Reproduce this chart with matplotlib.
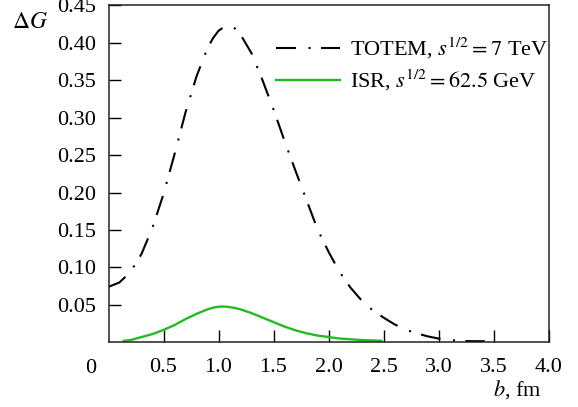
import matplotlib
matplotlib.use("Agg")
import matplotlib.pyplot as plt

# TOTEM, sqrt(s) = 7 TeV
b_totem = [0.0, 0.1, 0.2, 0.3, 0.4, 0.5, 0.6, 0.7, 0.8, 0.9, 0.95, 1.0, 1.05,
           1.1, 1.15, 1.2, 1.3, 1.4, 1.5, 1.6, 1.7, 1.8, 1.9, 2.0, 2.1, 2.2,
           2.3, 2.4, 2.5, 2.6, 2.7, 2.8, 2.9, 3.0, 3.1, 3.2, 3.3, 3.42]
dg_totem = [0.074, 0.080, 0.094, 0.118, 0.153, 0.198, 0.251, 0.307, 0.355,
            0.393, 0.406, 0.416, 0.421, 0.423, 0.419, 0.411, 0.386, 0.350,
            0.311, 0.269, 0.229, 0.190, 0.151, 0.121, 0.094, 0.073, 0.056,
            0.043, 0.033, 0.024, 0.017, 0.012, 0.008, 0.005, 0.003, 0.002,
            0.0015, 0.0015]

# ISR, sqrt(s) = 62.5 GeV
b_isr = [0.14, 0.2, 0.3, 0.4, 0.5, 0.6, 0.7, 0.8, 0.9, 0.95, 1.0, 1.05, 1.1,
         1.15, 1.2, 1.3, 1.4, 1.5, 1.6, 1.7, 1.8, 1.9, 2.0, 2.1, 2.2, 2.3,
         2.4, 2.48]
dg_isr = [0.002, 0.003, 0.007, 0.011, 0.0165, 0.023, 0.031, 0.038, 0.044,
          0.0462, 0.0475, 0.0478, 0.047, 0.0458, 0.044, 0.039, 0.033, 0.027,
          0.021, 0.016, 0.012, 0.009, 0.007, 0.005, 0.004, 0.003, 0.0025,
          0.002]

xticks = [0.5, 1.0, 1.5, 2.0, 2.5, 3.0, 3.5, 4.0]
yticks = [0.05, 0.10, 0.15, 0.20, 0.25, 0.30, 0.35, 0.40, 0.45]

plt.rcParams['font.family'] = ['Liberation Serif', 'DejaVu Serif']
plt.rcParams['mathtext.fontset'] = 'stix'
plt.rcParams['font.size'] = 16
plt.rcParams['lines.scale_dashes'] = False

fig = plt.figure(figsize=(5.78, 4.07), dpi=100)
ax = fig.add_axes([108.5 / 578, 1 - 342.3 / 407, 440 / 578, 337 / 407])

ax.plot(b_totem, dg_totem, color='black', lw=1.5, dashes=(14.4, 9, 1.5, 7.5),
        label='TOTEM, $s^{1/2} = 7$ TeV')
ax.plot(b_isr, dg_isr, color='#22bb22', lw=1.7,
        label='ISR, $s^{1/2} = 62.5$ GeV')

ax.set_xlim(0, 4.0)
ax.set_ylim(0, 0.45)
ax.set_xticks(xticks)
ax.set_xticklabels([f'{t:.1f}' for t in xticks])
ax.set_yticks(yticks)
ax.set_yticklabels([f'{t:.2f}' for t in yticks])
ax.tick_params(direction='in', length=8.5, width=1.0, colors='black',
               labelsize=16)
ax.tick_params(axis='x', pad=11)
ax.tick_params(axis='y', pad=9)
for s in ax.spines.values():
    s.set_linewidth(1.1)
    s.set_color('#222222')

# origin label at the lower-left corner
ax.text(-0.16, -26 / 337, '0', transform=ax.get_xaxis_transform(),
        ha='center', va='center', fontsize=16)

fig.text(30 / 578, 1 - 22 / 407, r'$\Delta G$', ha='center', va='center',
         fontsize=17)
fig.text(542 / 578, 1 - 390 / 407, '$b$, fm', ha='right', va='center',
         fontsize=16)

ax.legend(loc='upper right', bbox_to_anchor=(1.0, 0.91), frameon=False,
          borderpad=0, borderaxespad=0, handlelength=2.9, handletextpad=0.45,
          labelspacing=0.3, fontsize=16)

fig.savefig('out.png', dpi=100)
